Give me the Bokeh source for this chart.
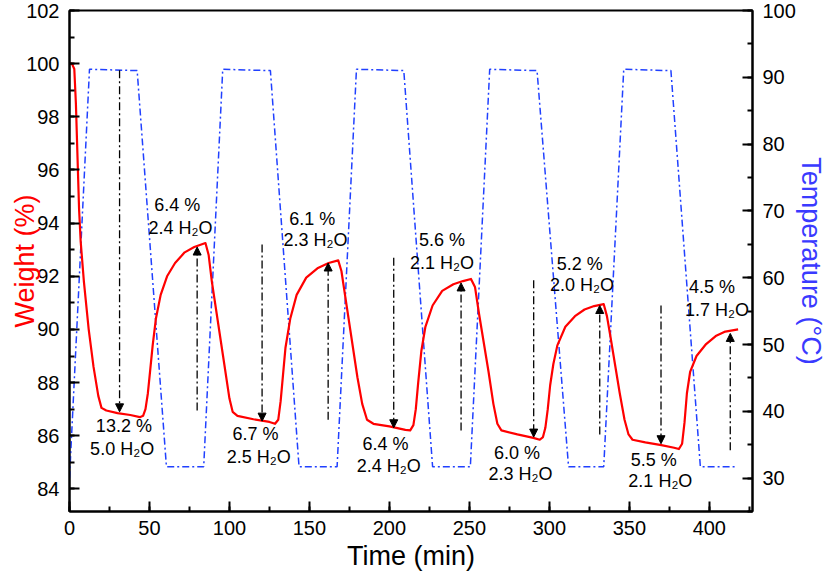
from bokeh.plotting import figure
from bokeh.models import (Range1d, LinearAxis, SingleIntervalTicker, Arrow,
                          NormalHead, ColumnDataSource)
from bokeh.core.properties import value
from bokeh.embed import file_html
from bokeh.resources import INLINE

# ---- weight curve (red) ----
time_w = [0, 1.5, 3, 4, 5, 6, 7, 9, 12, 15, 18, 20, 23, 30, 38, 44, 46, 47.5, 49,
          50.5, 52, 54, 57, 61, 66, 72, 78, 85,
          87, 89, 92, 96, 100, 102, 105, 115, 125, 128.5, 130.5, 132, 133.5, 135,
          138, 142, 148, 155, 162, 168,
          170, 172.5, 176, 180, 183, 186, 190, 200, 210, 213, 215, 216.5, 218, 220,
          222.5, 227, 233, 240, 246, 251,
          253.5, 256, 259, 262, 265, 267.5, 270, 280, 290, 294, 296, 297.5, 299,
          300.5, 302.5, 305, 310, 316, 322, 328, 334,
          336, 338, 341, 344, 347, 349.5, 352, 360, 370, 378, 381, 383, 384.5,
          386, 388, 392, 398, 404, 410, 418]
weight = [100.0, 100.0, 99.8, 98.5, 96.5, 94.5, 93.3, 91.8, 90.0, 88.6, 87.5, 87.05,
          86.95, 86.85, 86.78, 86.7, 86.75, 87.0, 87.6,
          88.5, 89.4, 90.4, 91.3, 92.0, 92.5, 92.9, 93.1, 93.25,
          92.8, 91.8, 90.6, 89.0, 87.4, 86.9, 86.75, 86.62, 86.52, 86.45, 86.6,
          87.3, 88.3, 89.3, 90.4, 91.3, 91.95, 92.3, 92.5, 92.6,
          92.2, 91.2, 89.8, 88.2, 87.2, 86.6, 86.45, 86.35, 86.22, 86.2, 86.4,
          87.0, 88.0, 89.2, 90.1, 90.9, 91.45, 91.7, 91.82, 91.9,
          91.6, 90.6, 89.5, 88.4, 87.2, 86.45, 86.2, 86.05, 85.92, 85.85, 85.95,
          86.3, 87.0, 87.9, 88.7, 89.4, 90.1, 90.5, 90.75, 90.88, 90.95,
          90.5, 89.8, 88.7, 87.6, 86.6, 86.05, 85.85, 85.75, 85.65, 85.55, 85.5,
          85.7, 86.5, 87.6, 88.4, 89.0, 89.45, 89.75, 89.92, 90.0]

# ---- temperature program (blue) ----
time_t = [0, 12.5, 42.3, 60.6, 83.9, 95.8, 125.6, 143.5, 167.3, 179.4, 209, 227,
          250.6, 262.7, 292.3, 312, 334, 346.5, 376, 394.4, 417.3]
temp = [30.0, 91.2, 91.0, 31.7, 31.7, 91.2, 91.0, 31.7, 31.7, 91.2, 91.0, 31.7,
        31.7, 91.2, 91.0, 31.7, 31.7, 91.2, 91.0, 31.7, 31.7]

# ---- arrows (weight changes) ----
arrow_x = [31.3, 120.4, 202.7, 290.2, 369.8, 79.8, 161.7, 244.8, 331.5, 413.1]
arrow_y0 = [99.75, 93.2, 92.7, 91.85, 90.9, 86.95, 86.6, 86.2, 86.05, 85.45]
arrow_y1 = [86.9, 86.55, 86.3, 85.95, 85.7, 93.1, 92.5, 91.75, 90.9, 89.85]

# ---- annotation labels ----
label_x = [34.0, 32.9, 116.3, 118.3, 197.5, 199.6, 279.8, 282.0, 365.2, 369.4,
           67.3, 69.4, 151.7, 153.75, 232.9, 232.9, 319.0, 320.4, 401.7, 404.8]
label_y = [86.35, 85.5, 86.05, 85.2, 85.7, 84.88, 85.36, 84.56, 85.08, 84.3,
           94.67, 93.8, 94.17, 93.36, 93.35, 92.5, 92.45, 91.68, 91.6, 90.74]
label_text = ["13.2 %", "5.0 H\u2082O", "6.7 %", "2.5 H\u2082O", "6.4 %", "2.4 H\u2082O",
              "6.0 %", "2.3 H\u2082O", "5.5 %", "2.1 H\u2082O",
              "6.4 %", "2.4 H\u2082O", "6.1 %", "2.3 H\u2082O", "5.6 %", "2.1 H\u2082O",
              "5.2 %", "2.0 H\u2082O", "4.5 %", "1.7 H\u2082O"]

FONT = "Liberation Sans"
RED = "#FF0000"
BLUE = "#2040FF"

p = figure(width=830, height=576, x_range=Range1d(0, 427), y_range=Range1d(83.15, 102),
           output_backend="svg", toolbar_location=None,
           min_border_left=69, min_border_right=78, min_border_top=10, min_border_bottom=65)
p.extra_y_ranges = {"temp": Range1d(25, 100)}
p.xgrid.visible = False
p.ygrid.visible = False
p.outline_line_color = "black"
p.outline_line_width = 2
p.outline_line_alpha = 1.0
p.background_fill_color = "white"
p.border_fill_color = "white"

p.line(time_t, temp, y_range_name="temp", line_color=BLUE, line_width=1.5,
       line_dash="7 3 2 3")
p.line(time_w, weight, line_color=RED, line_width=2.2, line_join="round")

src = ColumnDataSource(dict(x=arrow_x, y0=arrow_y0, y1=arrow_y1))
p.add_layout(Arrow(end=NormalHead(size=8, fill_color="black", line_color="black",
                                  line_width=1),
                   x_start="x", y_start="y0", x_end="x", y_end="y1", source=src,
                   line_color="black", line_width=1.3, line_dash="8 3 2 3"))

p.text(x=label_x, y=label_y, text=label_text, text_align="center",
       text_baseline="middle", text_font=value(FONT), text_font_size="18px",
       text_color="black")

right = LinearAxis(y_range_name="temp")
p.add_layout(right, "right")

p.xaxis.ticker = SingleIntervalTicker(interval=50, num_minor_ticks=2)
p.yaxis[0].ticker = SingleIntervalTicker(interval=2, num_minor_ticks=2)
right.ticker = SingleIntervalTicker(interval=10, num_minor_ticks=2)

for ax in [p.xaxis[0], p.yaxis[0], right]:
    ax.major_tick_in = 10
    ax.major_tick_out = 0
    ax.minor_tick_in = 5
    ax.minor_tick_out = 0
    ax.axis_line_width = 2
    ax.major_tick_line_width = 2
    ax.minor_tick_line_width = 2
    ax.axis_line_color = "black"
    ax.major_label_text_font = FONT
    ax.major_label_text_font_size = "20px"
    ax.major_label_text_color = "black"
    ax.axis_label_text_font = FONT
    ax.axis_label_text_font_size = "27px"
    ax.axis_label_text_font_style = "normal"

p.xaxis[0].axis_label = "Time (min)"
p.xaxis[0].axis_label_text_color = "black"
p.xaxis[0].major_label_standoff = 9
p.xaxis[0].axis_label_standoff = 3

p.yaxis[0].axis_label = "Weight (%)"
p.yaxis[0].axis_label_text_color = RED
p.yaxis[0].major_label_standoff = 10
p.yaxis[0].axis_label_standoff = -17

right.axis_label = "Temperature (\u00b0C)"
right.axis_label_text_color = "#3A3AFF"
right.major_label_standoff = 10
right.axis_label_standoff = -3

open("out.html", "w").write(file_html(p, INLINE))
